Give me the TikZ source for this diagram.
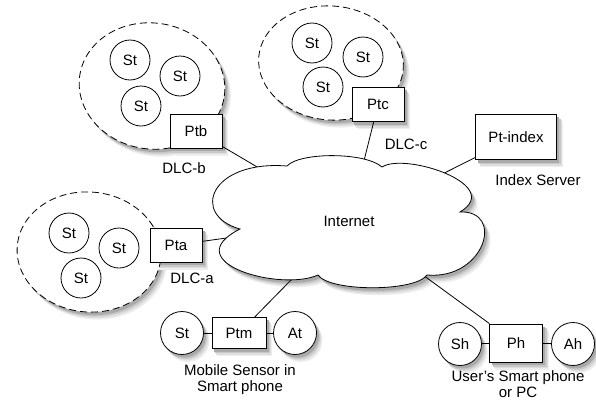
\documentclass[tikz,border=0pt]{standalone}
\usepackage{fontspec}
\setmainfont{Liberation Sans}
\usetikzlibrary{shapes.geometric}
\definecolor{shA}{RGB}{238,238,238}
\definecolor{shB}{RGB}{222,222,222}
\definecolor{shC}{RGB}{200,200,200}
\definecolor{shD}{RGB}{170,170,170}
\pgfdeclarelayer{background}
\pgfsetlayers{background,main}
\def\shlist{{6/7.5/shA},{4.8/6/shB},{3.6/4.5/shC},{2.4/3/shD}}
\newcommand\shrect[1]{%
  \foreach \dx/\dy/\c in \shlist {\fill[fill=\c] ([shift={(\dx,\dy)}]#1.south west) rectangle ([shift={(\dx,\dy)}]#1.north east);}}
\newcommand\shcirc[2]{%
  \foreach \dx/\dy/\c in \shlist {\fill[fill=\c] ([shift={(\dx,\dy)}]#1.center) circle[radius=#2];}}
\newcommand\shell[4]{%
  \foreach \dx/\dy/\c in \shlist {\fill[fill=\c] ([shift={(\dx,\dy)}]#1.center) circle[x radius=#2,y radius=#3,rotate=#4];}}
\newcommand\cloudpath{(240,229) .. controls (190,215) and (210,160) .. (287,166)
  .. controls (300,152) and (365,152) .. (382,167)
  .. controls (405,152) and (505,185) .. (460,212)
  .. controls (505,210) and (485,280) .. (427,275)
  .. controls (415,292) and (330,292) .. (318,275)
  .. controls (280,292) and (175,262) .. (240,229) -- cycle}
\begin{document}
\begin{tikzpicture}[x=1pt,y=-1pt,
  font=\fontsize{15}{16}\selectfont,
  blob/.style={ellipse,draw,dash pattern=on 7pt off 4pt,fill=white,line width=0.8pt},
  st/.style={circle,draw,fill=white,minimum size=40pt,inner sep=0pt,line width=0.8pt},
  stb/.style={st,minimum size=43pt},
  pbox/.style={rectangle,draw,fill=white,minimum width=52pt,minimum height=34pt,inner sep=0pt,line width=0.8pt},
  conn/.style={line width=0.8pt},
  lbl/.style={align=center,inner sep=0pt}]
\useasboundingbox (0,0) rectangle (596,399);
% DLC-b
\node[blob,minimum width=146pt,minimum height=126pt,rotate=-8] (blobb) at (152,86) {};
\node[st] (b1) at (130,60) {St};
\node[st] (b2) at (180,76) {St};
\node[st] (b3) at (141,106) {St};
\node[pbox] (ptb) at (196,131) {Ptb};
\node[lbl] (dlcb) at (184,168) {DLC-b};
% DLC-c
\node[blob,minimum width=145pt,minimum height=114pt,rotate=-5] (blobc) at (331,63) {};
\node[st] (c1) at (312,43) {St};
\node[st] (c2) at (363,57) {St};
\node[st] (c3) at (323,87) {St};
\node[pbox] (ptc) at (378,104.5) {Ptc};
\node[lbl] (dlcc) at (406,144) {DLC-c};
% DLC-a
\node[blob,minimum width=144pt,minimum height=120pt,rotate=-5] (bloba) at (89,252) {};
\node[st] (a1) at (69,233) {St};
\node[st] (a2) at (119,248) {St};
\node[st] (a3) at (81,278) {St};
\node[pbox] (pta) at (176,245) {Pta};
\node[lbl] (dlca) at (192,278) {DLC-a};
% index
\node[pbox,minimum width=81pt,minimum height=45pt] (idx) at (516,137) {Pt-index};
\node[lbl] (idxl) at (538,180) {Index Server};
% mobile
\node[stb] (mst) at (182,333) {St};
\node[pbox,minimum width=54pt,minimum height=31pt] (ptm) at (239,333) {Ptm};
\node[stb] (mat) at (295,333) {At};
\node[lbl] (ml) at (240,380) {Mobile Sensor in\\Smart phone};
% user
\node[stb] (sh) at (460,344) {Sh};
\node[pbox,minimum width=53pt,minimum height=38pt] (ph) at (516,343) {Ph};
\node[stb] (ah) at (573,344) {Ah};
\node[lbl] (ul) at (518,384) {User's Smart phone\\or PC};
% cloud
\draw[fill=white,line width=0.8pt] \cloudpath;
\node[lbl] (net) at (349,221) {Internet};
% shadows and connectors
\begin{pgfonlayer}{background}
\shell{blobb}{73}{63}{-8}
\shell{blobc}{72.5}{57}{-5}
\shell{bloba}{72}{60}{-5}
\foreach \dx/\dy/\c in \shlist {\fill[fill=\c,shift={(\dx,\dy)}] \cloudpath;}
\shrect{ptb}\shrect{ptc}\shrect{pta}\shrect{idx}\shrect{ptm}\shrect{ph}
\shcirc{mst}{21.5}\shcirc{mat}{21.5}\shcirc{sh}{21.5}\shcirc{ah}{21.5}
\draw[conn] (ptb) -- (net.center);
\draw[conn] (ptc) -- (net.center);
\draw[conn] (pta) -- (net.center);
\draw[conn] (idx) -- (net.center);
\draw[conn] (ptm) -- (net.center);
\draw[conn] (ph) -- (net.center);
\end{pgfonlayer}
\draw[conn] (mst) -- (ptm);
\draw[conn] (ptm) -- (mat);
\draw[conn] (sh) -- (ph);
\draw[conn] (ph) -- (ah);
\end{tikzpicture}
\end{document}
